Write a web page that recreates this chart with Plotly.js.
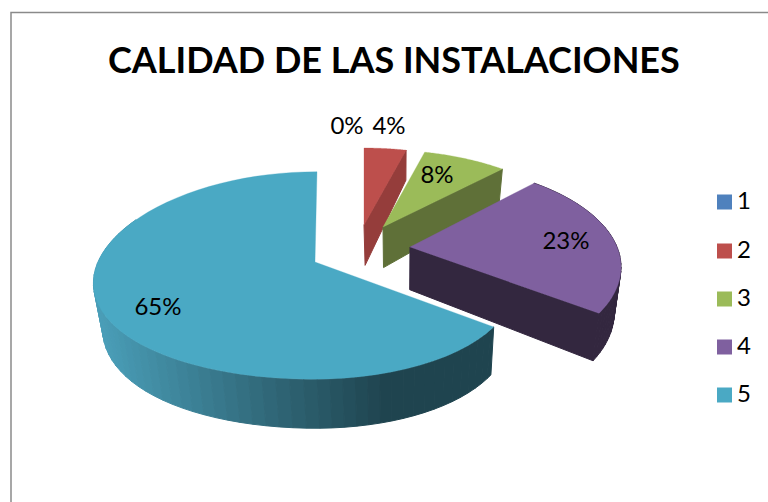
<!DOCTYPE html>
<html><head><meta charset="utf-8">
<script src="https://cdn.plot.ly/plotly-3.0.1.min.js"></script>
<style>html,body{margin:0;padding:0;background:#fff}#c{width:768px;height:502px}</style>
</head><body><div id="c"></div>
<script>
const chartTitle = 'CALIDAD DE LAS INSTALACIONES';
const categories = ['1','2','3','4','5'];
const percents = [0,4,8,23,65];
const topColors = ['#4f81bd','#bd4f4c','#9bbb59','#7f609f','#4aa9c4'];
const faceColors = ['#3b6088','#953d3b','#5f7038','#33273f','#1f444f'];
// placement of each exploded wedge in the pixel-sized plotting area
const apexX = [364,364,383,410,315];
const apexY = [225,225,227,247,262];
const radX  = [201,201,199,207,197];
const radXL = [201,201,199,207,217];
const radY  = [87,87,87,100,102];
const persp = [.13,.13,.13,.194,.13];
const labelX = [347,389,437,566,158];
const labelY = [128,128,177,243,309];
const legendY = [202,251,299,347,395];

const FONT='Lato, Carlito, Calibri, sans-serif';
const traces=[];
function top3(i,deg){
  const a=deg*Math.PI/180,u=Math.sin(a),v=-Math.cos(a);
  const rx=u<0?radXL[i]:radX[i];
  return [apexX[i]+rx*u/(1-.194*v)-(i===4?2*v:0), apexY[i]+radY[i]*v/(1-persp[i]*v)];
}
function drop(p){
  const t=(380-p[1])/230;
  return [400+(p[0]-400)*.97, p[1]+49-19*t*t];
}
function poly(pts,color,line){
  traces.push({type:'scatter',mode:'lines',x:pts.concat([pts[0]]).map(p=>p[0]),y:pts.concat([pts[0]]).map(p=>p[1]),
    fill:'toself',fillcolor:color,line:{color:color,width:line||1,simplify:false},hoverinfo:'skip',showlegend:false});
}
function mix(a,b,t){return 'rgb('+a.map((c,k)=>Math.round(c+(b[k]-c)*t)).join(',')+')';}
function wedge(i,from,to){
  const pts=[[apexX[i],apexY[i]]];
  for(let d=from;d<=to+.001;d+=(to-from)/60)pts.push(top3(i,d));
  return pts;
}
const bounds=[];let acc=0;
percents.forEach(p=>{bounds.push([acc*3.6,(acc+p)*3.6]);acc+=p;});

// back-to-front: wedges 2, 3, 4, then 5 in front
[1,2,3].forEach(i=>{
  const [s,e]=bounds[i];
  const apex=[apexX[i],apexY[i]];
  if(i===3){ // outer wall
    const st=(e-s)/40;
    for(let d=s;d<e-.001;d+=st){
      const a=top3(i,d),b=top3(i,d+st);
      poly([a,b,drop(b),drop(a)],faceColors[i]);
    }
  }
  const end=top3(i,e);
  poly([apex,end,drop(end),drop(apex)],faceColors[i]);
  poly(wedge(i,s,e),topColors[i],0.3);
});
// teal wedge: shaded outer wall
const [s5,e5]=bounds[4];
const c0=[74,158,184],c1=[31,68,79];
for(let d=296;d>s5;d-=3){
  const a=top3(4,Math.max(d-3,s5)),b=top3(4,d);
  const t=Math.min(1,Math.max(0,(390-a[0])/290));
  poly([a,b,drop(b),drop(a)],mix(c1,c0,t));
}
poly(wedge(4,s5,e5),topColors[4],0.3);

// percentage labels
traces.push({type:'scatter',mode:'text',x:labelX,y:labelY,text:percents.map(p=>p+'%'),
  textposition:'middle center',textfont:{family:FONT,size:24,color:'#000'},hoverinfo:'skip',showlegend:false});
// legend
traces.push({type:'scatter',mode:'markers',x:categories.map(()=>724.5),y:legendY,
  marker:{symbol:'square',size:15,color:topColors,line:{width:0}},hoverinfo:'skip',showlegend:false});
traces.push({type:'scatter',mode:'text',x:categories.map(()=>737),y:legendY.map(y=>y+1),text:categories,
  textposition:'middle right',textfont:{family:FONT,size:24,color:'#000'},hoverinfo:'skip',showlegend:false});

const layout={width:768,height:502,margin:{l:0,r:0,t:0,b:0},paper_bgcolor:'#fff',plot_bgcolor:'#fff',showlegend:false,
  xaxis:{range:[0,768],visible:false,fixedrange:true},
  yaxis:{range:[502,0],visible:false,fixedrange:true},
  shapes:[{type:'path',xref:'x',yref:'y',path:'M11,502 L11,12.5 L768,12.5',line:{color:'#8a8a8a',width:1.5}}],
  annotations:[{xref:'x',yref:'y',x:394,y:59,text:'<b>'+chartTitle+'</b>',showarrow:false,
    font:{family:FONT,size:36,color:'#000'},xanchor:'center',yanchor:'middle'}]};
Plotly.newPlot('c',traces,layout,{displayModeBar:false,staticPlot:true});
</script></body></html>
